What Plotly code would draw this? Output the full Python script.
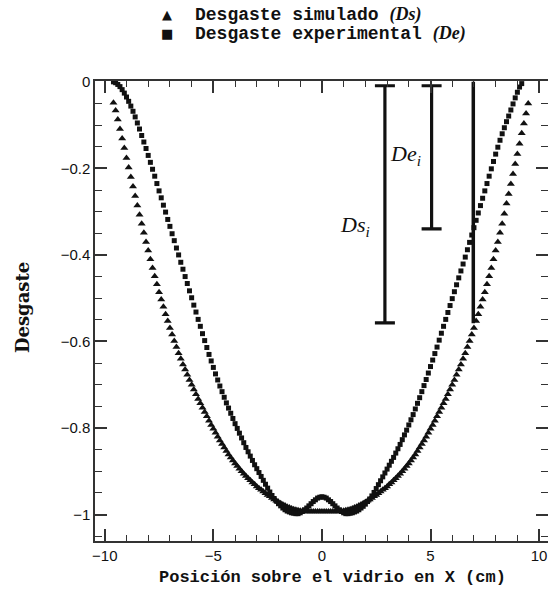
import plotly.graph_objects as go

# ---------------- data ----------------
x_grid = [
    -9.6, -9.5, -9.4, -9.3, -9.2, -9.1, -9.0, -8.9, -8.8, -8.7,
    -8.6, -8.5, -8.4, -8.3, -8.2, -8.1, -8.0, -7.9, -7.8, -7.7,
    -7.6, -7.5, -7.4, -7.3, -7.2, -7.1, -7.0, -6.9, -6.8, -6.7,
    -6.6, -6.5, -6.4, -6.3, -6.2, -6.1, -6.0, -5.9, -5.8, -5.7,
    -5.6, -5.5, -5.4, -5.3, -5.2, -5.1, -5.0, -4.9, -4.8, -4.7,
    -4.6, -4.5, -4.4, -4.3, -4.2, -4.1, -4.0, -3.9, -3.8, -3.7,
    -3.6, -3.5, -3.4, -3.3, -3.2, -3.1, -3.0, -2.9, -2.8, -2.7,
    -2.6, -2.5, -2.4, -2.3, -2.2, -2.1, -2.0, -1.9, -1.8, -1.7,
    -1.6, -1.5, -1.4, -1.3, -1.2, -1.1, -1.0, -0.9, -0.8, -0.7,
    -0.6, -0.5, -0.4, -0.3, -0.2, -0.1, 0.0, 0.1, 0.2, 0.3,
    0.4, 0.5, 0.6, 0.7, 0.8, 0.9, 1.0, 1.1, 1.2, 1.3,
    1.4, 1.5, 1.6, 1.7, 1.8, 1.9, 2.0, 2.1, 2.2, 2.3,
    2.4, 2.5, 2.6, 2.7, 2.8, 2.9, 3.0, 3.1, 3.2, 3.3,
    3.4, 3.5, 3.6, 3.7, 3.8, 3.9, 4.0, 4.1, 4.2, 4.3,
    4.4, 4.5, 4.6, 4.7, 4.8, 4.9, 5.0, 5.1, 5.2, 5.3,
    5.4, 5.5, 5.6, 5.7, 5.8, 5.9, 6.0, 6.1, 6.2, 6.3,
    6.4, 6.5, 6.6, 6.7, 6.8, 6.9, 7.0, 7.1, 7.2, 7.3,
    7.4, 7.5, 7.6, 7.7, 7.8, 7.9, 8.0, 8.1, 8.2, 8.3,
    8.4, 8.5, 8.6, 8.7, 8.8, 8.9, 9.0, 9.1, 9.2, 9.3,
    9.4, 9.5,
]

# Desgaste simulado (Ds) - triangles
ds_x = x_grid
ds_y = [
    -0.048, -0.066, -0.087, -0.109, -0.131, -0.153, -0.176, -0.198, -0.220, -0.242,
    -0.264, -0.286, -0.307, -0.328, -0.349, -0.370, -0.390, -0.410, -0.430, -0.449,
    -0.468, -0.486, -0.503, -0.520, -0.537, -0.553, -0.569, -0.584, -0.599, -0.613,
    -0.627, -0.640, -0.653, -0.665, -0.677, -0.689, -0.700, -0.711, -0.722, -0.733,
    -0.743, -0.753, -0.763, -0.773, -0.783, -0.793, -0.802, -0.811, -0.820, -0.829,
    -0.837, -0.845, -0.853, -0.861, -0.868, -0.875, -0.882, -0.888, -0.894, -0.900,
    -0.906, -0.911, -0.916, -0.921, -0.926, -0.930, -0.935, -0.939, -0.943, -0.947,
    -0.951, -0.955, -0.958, -0.962, -0.965, -0.968, -0.971, -0.974, -0.977, -0.979,
    -0.982, -0.984, -0.986, -0.988, -0.989, -0.990, -0.991, -0.992, -0.993, -0.993,
    -0.993, -0.993, -0.993, -0.993, -0.993, -0.993, -0.993, -0.993, -0.993, -0.993,
    -0.993, -0.993, -0.993, -0.993, -0.993, -0.992, -0.991, -0.990, -0.989, -0.988,
    -0.986, -0.984, -0.982, -0.979, -0.977, -0.974, -0.971, -0.968, -0.965, -0.962,
    -0.958, -0.955, -0.951, -0.947, -0.943, -0.939, -0.935, -0.930, -0.926, -0.921,
    -0.916, -0.911, -0.906, -0.900, -0.894, -0.888, -0.882, -0.875, -0.868, -0.861,
    -0.853, -0.845, -0.837, -0.829, -0.820, -0.811, -0.802, -0.793, -0.783, -0.773,
    -0.763, -0.753, -0.743, -0.733, -0.722, -0.711, -0.700, -0.689, -0.677, -0.665,
    -0.653, -0.640, -0.627, -0.613, -0.599, -0.584, -0.569, -0.553, -0.537, -0.520,
    -0.503, -0.486, -0.468, -0.449, -0.430, -0.410, -0.390, -0.370, -0.349, -0.328,
    -0.305, -0.281, -0.259, -0.236, -0.213, -0.190, -0.167, -0.143, -0.119, -0.096,
    -0.073, -0.050,
]

# Desgaste experimental (De) - squares (x from -9.6 to 9.2)
de_x = x_grid[:189]
de_y = [
    0.000, -0.002, -0.006, -0.011, -0.018, -0.026, -0.035, -0.045, -0.056, -0.068,
    -0.081, -0.095, -0.109, -0.124, -0.139, -0.154, -0.170, -0.186, -0.202, -0.218,
    -0.235, -0.252, -0.268, -0.285, -0.301, -0.318, -0.334, -0.351, -0.367, -0.384,
    -0.400, -0.417, -0.433, -0.450, -0.466, -0.483, -0.499, -0.516, -0.532, -0.549,
    -0.565, -0.582, -0.598, -0.614, -0.630, -0.645, -0.660, -0.675, -0.689, -0.703,
    -0.716, -0.729, -0.742, -0.754, -0.766, -0.778, -0.790, -0.801, -0.812, -0.823,
    -0.834, -0.845, -0.855, -0.865, -0.875, -0.885, -0.894, -0.903, -0.912, -0.921,
    -0.930, -0.939, -0.948, -0.956, -0.963, -0.969, -0.975, -0.980, -0.985, -0.989,
    -0.992, -0.994, -0.996, -0.997, -0.998, -0.998, -0.996, -0.993, -0.989, -0.985,
    -0.980, -0.975, -0.970, -0.966, -0.962, -0.960, -0.959, -0.960, -0.962, -0.966,
    -0.970, -0.975, -0.980, -0.985, -0.989, -0.993, -0.996, -0.998, -0.998, -0.997,
    -0.996, -0.994, -0.992, -0.989, -0.985, -0.981, -0.976, -0.970, -0.964, -0.957,
    -0.949, -0.940, -0.931, -0.922, -0.913, -0.904, -0.895, -0.886, -0.877, -0.868,
    -0.858, -0.848, -0.838, -0.827, -0.816, -0.805, -0.793, -0.781, -0.769, -0.756,
    -0.743, -0.730, -0.716, -0.702, -0.688, -0.673, -0.658, -0.643, -0.628, -0.613,
    -0.597, -0.581, -0.565, -0.549, -0.533, -0.517, -0.501, -0.485, -0.469, -0.453,
    -0.437, -0.421, -0.405, -0.388, -0.371, -0.354, -0.337, -0.320, -0.303, -0.286,
    -0.269, -0.252, -0.235, -0.218, -0.201, -0.184, -0.167, -0.151, -0.135, -0.120,
    -0.106, -0.092, -0.079, -0.065, -0.051, -0.037, -0.024, -0.012, -0.004,
]

# illustrative bars Ds_i and De_i
bar_x = [2.9, 5.05]
bar_top = [-0.009, -0.009]
bar_bottom = [-0.557, -0.34]
bar_labels = ["Ds", "De"]
bar_label_x = [1.5, 3.87]
bar_label_y = [-0.332, -0.17]

# vertical marker line at one position
mark_x = [6.97, 6.97]
mark_y = [0.0, -0.558]

x_ticks = [-10, -5, 0, 5, 10]
y_ticks = [0, -0.2, -0.4, -0.6, -0.8, -1]
y_ticktext = ["0", "\u22120.2", "\u22120.4", "\u22120.6", "\u22120.8", "\u22121"]
x_ticktext = ["\u221210", "\u22125", "0", "5", "10"]

# ---------------- figure ----------------
INK = "#111111"
AX = "#333333"
fig = go.Figure()

fig.add_trace(go.Scatter(
    x=ds_x, y=ds_y, mode="markers", name="Desgaste simulado (Ds)",
    marker=dict(symbol="triangle-up", size=7, color=INK, line=dict(width=0)),
    showlegend=False,
))
fig.add_trace(go.Scatter(
    x=de_x, y=de_y, mode="markers", name="Desgaste experimental (De)",
    marker=dict(symbol="square", size=5, color=INK, line=dict(width=0)),
    showlegend=False,
))

centers = [(t + b) / 2 for t, b in zip(bar_top, bar_bottom)]
halfs = [(t - b) / 2 for t, b in zip(bar_top, bar_bottom)]
fig.add_trace(go.Scatter(
    x=bar_x, y=centers, mode="markers", marker=dict(size=0.1, color="rgba(0,0,0,0)"),
    error_y=dict(type="data", array=halfs, symmetric=True, color=INK, thickness=3.2, width=10),
    showlegend=False, hoverinfo="skip",
))
fig.add_trace(go.Scatter(
    x=mark_x, y=mark_y, mode="lines", line=dict(color=INK, width=3.5),
    showlegend=False, hoverinfo="skip",
))

tickfont = dict(family="Liberation Sans, Arial, sans-serif", size=15, color=INK)
fig.update_xaxes(
    range=[-10.45, 10.41], tickvals=x_ticks, ticktext=x_ticktext,
    ticks="inside", ticklen=12, tickwidth=1.5, tickcolor=AX,
    minor=dict(dtick=1, ticks="inside", ticklen=6, tickwidth=1.2, tickcolor=AX),
    showline=True, linecolor=AX, linewidth=1.5, mirror="ticks",
    showgrid=False, zeroline=False, tickfont=tickfont,
)
fig.update_yaxes(
    range=[-1.0612, 0.002], tickvals=y_ticks, ticktext=y_ticktext,
    ticks="inside", ticklen=12, tickwidth=1.5, tickcolor=AX,
    minor=dict(dtick=0.05, ticks="inside", ticklen=7, tickwidth=1.2, tickcolor=AX),
    showline=True, linecolor=AX, linewidth=1.5, mirror="ticks",
    showgrid=False, zeroline=False, tickfont=tickfont,
)

mono = "Liberation Mono, Courier New, monospace"
serif = "Liberation Serif"
annotations = [
    dict(text="Desgaste", textangle=-90, x=-0.161, y=0.5065, xref="paper", yref="paper",
         showarrow=False, font=dict(family="DejaVu Serif", size=18, color=INK, weight="bold"),
         xanchor="center", yanchor="middle"),
    dict(text="<b>Posición sobre el vidrio en X (cm)</b>", x=0.525, y=-0.0783, xref="paper", yref="paper",
         showarrow=False, font=dict(family=mono, size=17, color=INK),
         xanchor="center", yanchor="middle"),
    dict(text="\u25B2", x=0.159, y=1.1435, xref="paper", yref="paper", showarrow=False,
         font=dict(family="DejaVu Sans", size=13, color=INK), xanchor="center", yanchor="middle"),
    dict(text="\u25A0", x=0.159, y=1.1043, xref="paper", yref="paper", showarrow=False,
         font=dict(family="DejaVu Sans", size=13, color=INK), xanchor="center", yanchor="middle"),
    dict(text='<b>Desgaste simulado</b> <span style="font-family:Liberation Serif"><b><i>(Ds)</i></b></span>',
         x=0.2163, y=1.1435, xref="paper", yref="paper", showarrow=False,
         font=dict(family=mono, size=18, color=INK), xanchor="left", yanchor="middle"),
    dict(text='<b>Desgaste experimental</b> <span style="font-family:Liberation Serif"><b><i>(De)</i></b></span>',
         x=0.2163, y=1.1043, xref="paper", yref="paper", showarrow=False,
         font=dict(family=mono, size=18, color=INK), xanchor="left", yanchor="middle"),
]
for lab, lx, ly in zip(bar_labels, bar_label_x, bar_label_y):
    annotations.append(dict(
        text=f"<i>{lab}<sub>i</sub></i>", x=lx, y=ly, xref="x", yref="y", showarrow=False,
        font=dict(family=serif, size=22, color=INK), xanchor="center", yanchor="middle"))

fig.update_layout(
    width=548, height=592,
    margin=dict(l=95, r=0, t=81, b=51, autoexpand=False),
    paper_bgcolor="white", plot_bgcolor="white",
    annotations=annotations, showlegend=False,
)

fig.write_html("out.html")
